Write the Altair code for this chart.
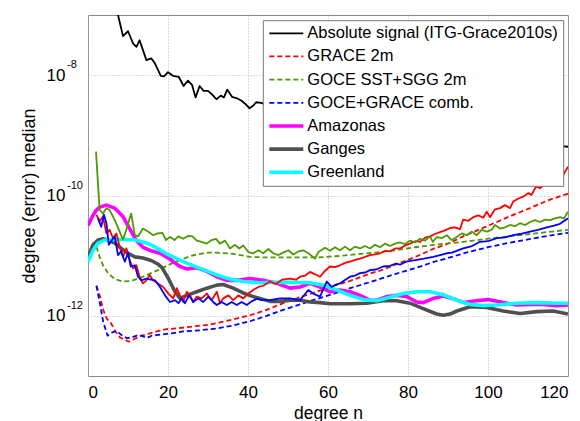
import altair as alt
import numpy as np
import pandas as pd

# ---- values: spherical-harmonic degree n and log10(degree median) ----
abs_n = [7, 7.5, 8.75, 10, 11.25, 12.1, 12.9, 14.6, 15.8, 16.7, 18.2, 19, 20, 21.25, 22.7, 23.9, 25, 26,
         26.9, 27.9, 28.9, 30, 31, 32.1, 33.2, 34, 34.8, 36, 37.1, 38.3, 39.2, 40.4, 41.25, 42.1, 43.3,
         45, 48, 52, 56, 60, 65, 70, 75, 80, 85, 90, 95, 100, 105, 110, 115, 118.5, 120]
abs_log = [-6.90, -7.00, -7.35, -7.27, -7.47, -7.53, -7.42, -7.75, -7.72, -7.80, -8.01, -8.02, -7.95, -8.01,
           -8.03, -8.18, -8.09, -8.16, -8.37, -8.18, -8.26, -8.26, -8.32, -8.40, -8.34, -8.37, -8.24, -8.36,
           -8.38, -8.42, -8.47, -8.55, -8.51, -8.45, -8.46,
           -8.50, -8.55, -8.60, -8.66, -8.70, -8.76, -8.81, -8.86, -8.91, -8.95, -8.99, -9.03, -9.07, -9.10,
           -9.13, -9.16, -9.18, -9.19]

grace_2m_n = [2.1, 3, 3.8, 4.7, 5.75, 6.75, 8, 9.25, 10.3, 11.75, 13.4, 15.1, 17.2, 19.7, 22, 24.5, 27, 30,
              33, 36.3, 40.5, 44.7, 48.8, 53, 57.2, 61.5, 65.5, 70, 73.8, 78, 82.2, 86.6, 90, 93.8, 98,
              102.2, 106, 110.5, 115, 120]
grace_2m_log = [-11.50, -11.68, -11.90, -12.05, -12.12, -12.25, -12.36, -12.40, -12.43, -12.38, -12.33,
                -12.30, -12.26, -12.22, -12.21, -12.19, -12.17, -12.15, -12.11, -12.06, -11.99, -11.90,
                -11.79, -11.69, -11.60, -11.50, -11.42, -11.31, -11.23, -11.12, -11.01, -10.88, -10.80,
                -10.68, -10.56, -10.44, -10.33, -10.21, -10.08, -9.97]

goce_2m_n = [2.1, 2.9, 3.75, 5, 6.7, 8.75, 10.8, 13.3, 15.8, 17.5, 19.7, 21.5, 23.8, 26, 28, 30, 32.2,
             36.3, 40.5, 44.7, 48.8, 53, 57.2, 61.75, 66.75, 71.75, 76.75, 81.75, 86.6, 93.8, 102.2,
             110.5, 120]
goce_2m_log = [-10.85, -11.02, -11.16, -11.29, -11.39, -11.43, -11.42, -11.36, -11.29, -11.24, -11.17,
               -11.11, -11.05, -11.00, -10.97, -10.95, -10.95, -10.97, -11.02, -11.03, -11.03, -11.03,
               -11.03, -11.01, -10.98, -10.95, -10.91, -10.86, -10.82, -10.77, -10.70, -10.64, -10.57]

comb_n = [2.1, 3, 3.8, 4.9, 5.9, 7.2, 8.4, 9.7, 10.9, 12.2, 13.4, 14.7, 15.9, 18.4, 20.9, 23.8, 28, 32.2,
          36.3, 40.5, 44.7, 48.8, 53, 57.2, 61.5, 65.5, 70, 73.8, 78, 82.2, 86.6, 90.5, 95, 100, 105, 110,
          115, 120]
comb_log = [-11.50, -11.80, -12.10, -12.33, -12.28, -12.25, -12.32, -12.37, -12.36, -12.33, -12.33,
            -12.37, -12.33, -12.31, -12.29, -12.26, -12.24, -12.21, -12.16, -12.09, -12.00, -11.90,
            -11.81, -11.72, -11.63, -11.54, -11.45, -11.37, -11.28, -11.20, -11.10, -11.03, -10.94,
            -10.86, -10.79, -10.73, -10.67, -10.62]

grace_real_n = [2.1, 2.9, 3.75, 4.6, 5.4, 6.25, 7.1, 7.9, 8.75, 9.6, 10.4, 11.25, 12.1, 12.9, 13.75, 14.6,
                15.4, 16.25, 17.2, 18.8, 20.1, 21.3, 22.2, 23, 23.8, 24.7, 25.5, 26.3, 27.2, 28.4, 29.7,
                30.9, 32.2, 33, 33.8, 35.1, 36.3, 37.6, 38.8, 40.1, 41.3, 42.6, 43.8, 45.5, 47, 48.5,
                50.5, 52, 53, 54.3, 55.5, 56.8, 58, 59.3, 60.5, 61.8, 63, 64.3, 65.5, 66.8, 68, 69.3,
                70.5, 71.8, 73, 74.3, 75.5, 76.8, 78, 79.3, 80.5, 81.8, 83, 84.3, 85.5, 86.75, 88, 89.25,
                90.5, 91.75, 93, 93.8, 95.1, 96.3, 97.6, 98.8, 99.7, 100.5, 101.75, 103, 104.25, 105.5,
                106.3, 107.6, 108.8, 110.1, 110.9, 112, 113, 114.25, 115.1, 116, 117.5, 118.8, 120]
grace_real_log = [-10.32, -10.43, -10.35, -10.63, -10.57, -10.71, -10.63, -10.85, -11.02, -10.88, -11.07,
                  -11.21, -11.16, -11.35, -11.46, -11.41, -11.32, -11.41, -11.45, -11.52, -11.63, -11.71,
                  -11.54, -11.66, -11.77, -11.60, -11.66, -11.77, -11.68, -11.71, -11.63, -11.74, -11.60,
                  -11.79, -11.71, -11.66, -11.74, -11.66, -11.71, -11.63, -11.57, -11.52, -11.50, -11.43,
                  -11.47, -11.40, -11.38, -11.40, -11.35, -11.33, -11.27, -11.31, -11.35, -11.25, -11.18,
                  -11.19, -11.16, -11.12, -11.10, -11.07, -11.05, -11.02, -10.99, -10.98, -10.96, -10.92,
                  -10.93, -10.88, -10.88, -10.83, -10.80, -10.76, -10.77, -10.70, -10.68, -10.64, -10.61,
                  -10.58, -10.54, -10.53, -10.56, -10.40, -10.42, -10.36, -10.33, -10.37, -10.27, -10.36,
                  -10.23, -10.21, -10.16, -10.21, -10.10, -10.05, -10.02, -9.96, -9.99, -9.85, -9.88,
                  -9.80, -9.83, -9.76, -9.70, -9.66, -9.52]

goce_real_n = [2, 2.9, 3.75, 4.6, 5.4, 6.7, 7.9, 8.75, 9.6, 10.4, 10.8, 11.7, 12.5, 13.75, 15, 16.3, 17.4,
               18.6, 19.5, 20.5, 21.6, 22.6, 23.8, 25.1, 26.1, 27.2, 28.8, 29.7, 30.9, 32, 33, 34.25, 35.5,
               36.75, 37.8, 38.8, 40.1, 41.3, 42.6, 43.8, 45.1, 46.3, 47.6, 48.8, 50.1, 51.3, 52.6, 53.8,
               55.1, 56.75, 57.6, 59.25, 60.5, 61.75, 63, 64.25, 65.5, 66.75, 68, 69.25, 70.5, 71.75, 73,
               74.25, 75.5, 76.75, 78, 79.25, 80.5, 81.75, 83, 84.25, 85.5, 86.2, 87.2, 88.4, 89.7, 90.9,
               92.2, 93.4, 94.7, 95.9, 97.2, 98.4, 99.7, 100.9, 101.75, 103, 104.25, 105.5, 106.75, 108,
               109.25, 110.5, 111.75, 113, 114.25, 115.5, 116.75, 118, 119, 120]
goce_real_log = [-9.27, -10.24, -10.30, -10.21, -10.24, -10.41, -10.60, -10.73, -10.57, -10.38, -10.30,
                 -10.66, -10.68, -10.55, -10.60, -10.66, -10.63, -10.62, -10.74, -10.69, -10.74, -10.68,
                 -10.72, -10.67, -10.68, -10.75, -10.78, -10.80, -10.74, -10.72, -10.80, -10.75, -10.88,
                 -10.82, -10.88, -10.83, -10.94, -10.96, -10.91, -10.96, -10.89, -10.96, -10.99, -10.95,
                 -10.91, -10.98, -10.93, -10.91, -10.96, -11.05, -10.94, -10.87, -10.92, -10.86, -10.91,
                 -10.85, -10.91, -10.85, -10.88, -10.84, -10.88, -10.82, -10.86, -10.80, -10.84, -10.80,
                 -10.78, -10.81, -10.75, -10.78, -10.72, -10.75, -10.68, -10.77, -10.69, -10.71, -10.66,
                 -10.74, -10.69, -10.63, -10.66, -10.60, -10.66, -10.57, -10.60, -10.57, -10.49, -10.55,
                 -10.53, -10.49, -10.51, -10.46, -10.49, -10.44, -10.41, -10.44, -10.40, -10.41, -10.38,
                 -10.36, -10.38, -10.27]

comb_real_n = [2.5, 3.3, 4, 4.6, 5.2, 6, 6.7, 7.5, 8.3, 9.2, 10, 10.7, 11.7, 12.5, 13.3, 14.6, 15.8, 16.75,
               18, 19.25, 20.5, 21.75, 22.6, 23.4, 24.25, 25.3, 26.3, 27.6, 28.8, 30.1, 31.3, 32.2, 33.4,
               34.7, 35.9, 37.2, 38.4, 39.7, 40.9, 42.2, 43.5, 45.5, 48, 50.5, 53, 55.1, 56.3, 58, 59.7,
               60.9, 62, 63, 65.5, 66.8, 68, 69.3, 70.5, 72, 73.8, 75.5, 77, 78, 79.5, 82.2, 84, 86.3, 88,
               89.7, 91, 93.8, 96, 98, 100, 102.2, 104, 106.3, 108, 110.5, 112.5, 114.7, 116.5, 118, 120]
comb_real_log = [-10.38, -10.52, -10.32, -10.46, -10.82, -10.74, -10.68, -10.99, -10.93, -11.10, -10.96,
                 -11.18, -11.16, -11.35, -11.41, -11.38, -11.40, -11.41, -11.52, -11.66, -11.77, -11.74,
                 -11.79, -11.71, -11.79, -11.66, -11.77, -11.71, -11.77, -11.68, -11.77, -11.82, -11.77,
                 -11.82, -11.77, -11.82, -11.77, -11.82, -11.76, -11.72, -11.74, -11.74, -11.71, -11.71,
                 -11.74, -11.57, -11.63, -11.68, -11.43, -11.52, -11.48, -11.46, -11.35, -11.33, -11.29,
                 -11.28, -11.24, -11.23, -11.18, -11.17, -11.13, -11.15, -11.10, -11.07, -11.05, -11.02,
                 -10.99, -10.96, -10.95, -10.88, -10.84, -10.77, -10.76, -10.71, -10.70, -10.66, -10.64,
                 -10.60, -10.57, -10.53, -10.50, -10.47, -10.38]

amazonas_n = [0, 1, 2, 3, 4.6, 6.7, 8.75, 10.4, 12.1, 13.75, 15.8, 18, 20.5, 23, 24.7, 27.2, 29.7, 32.2,
              34.7, 37.2, 40.5, 43.8, 47.2, 50.5, 53, 55.5, 58, 60.5, 63, 65.5, 68, 70.5, 72.2, 74.7, 77.2,
              79.7, 82.2, 83.8, 86.3, 88.8, 91.5, 94, 97, 100, 103.8, 107.2, 110.5, 113.8, 117.2, 120]
amazonas_log = [-10.50, -10.36, -10.25, -10.19, -10.16, -10.21, -10.35, -10.55, -10.75, -10.86, -10.92,
                -10.96, -11.06, -11.18, -11.22, -11.20, -11.26, -11.35, -11.41, -11.41, -11.38, -11.41,
                -11.46, -11.54, -11.52, -11.46, -11.52, -11.60, -11.57, -11.60, -11.66, -11.74, -11.74,
                -11.68, -11.66, -11.68, -11.77, -11.78, -11.71, -11.67, -11.72, -11.78, -11.75, -11.73,
                -11.78, -11.82, -11.81, -11.81, -11.83, -11.82]

ganges_n = [0, 1.25, 2.5, 3.75, 5, 6.7, 8.3, 10, 11.7, 13.75, 15.8, 17.5, 18.5, 20.1, 21.75, 23, 24.7,
            27.2, 29.7, 32.2, 33.8, 36.3, 38.8, 41.3, 43, 45.5, 48, 50.5, 53, 55.5, 58, 60.5, 65.5, 69.7,
            73.8, 77.2, 80.5, 83.8, 87.2, 88.8, 90.5, 92.2, 95.5, 99.7, 103.8, 108, 112.2, 116.3, 120]
ganges_log = [-11.02, -10.82, -10.74, -10.72, -10.74, -10.79, -10.88, -10.96, -11.02, -11.04, -11.08,
              -11.14, -11.20, -11.38, -11.60, -11.71, -11.66, -11.60, -11.54, -11.49, -11.48, -11.54,
              -11.62, -11.68, -11.71, -11.76, -11.76, -11.74, -11.74, -11.77, -11.78, -11.80, -11.80,
              -11.79, -11.75, -11.75, -11.79, -11.88, -11.97, -11.99, -11.97, -11.92, -11.85, -11.86,
              -11.92, -11.96, -11.93, -11.92, -11.97]

greenland_n = [0, 1.25, 2.5, 4.2, 6.7, 9.2, 11.7, 14.2, 16, 19.7, 23.8, 28, 32.2, 35.5, 38.8, 43, 48.8,
               55.5, 58.8, 62.2, 65.5, 68.8, 72.2, 75.5, 78.8, 82.2, 85.5, 88.8, 92.2, 95.5, 98.8, 102.2,
               107.2, 112.2, 117.2, 120]
greenland_log = [-11.10, -10.91, -10.79, -10.74, -10.73, -10.73, -10.74, -10.78, -10.83, -10.97, -11.10,
                 -11.21, -11.32, -11.39, -11.43, -11.45, -11.44, -11.45, -11.49, -11.57, -11.66, -11.73,
                 -11.75, -11.69, -11.63, -11.60, -11.60, -11.65, -11.74, -11.81, -11.83, -11.82, -11.79,
                 -11.78, -11.79, -11.79]

legend_labels = ["Absolute signal (ITG-Grace2010s)", "GRACE 2m", "GOCE SST+SGG 2m",
                 "GOCE+GRACE comb.", "Amazonas", "Ganges", "Greenland"]
y_tick_values = [1e-12, 1e-10, 1e-8]
y_tick_exponents = ["-12", "-10", "-8"]
x_tick_values = [0, 20, 40, 60, 80, 100, 120]

# ---- styles ----
RED, GREEN, BLUE = "#ff0000", "#4c9900", "#0000ff"
MAG, GRAY, CYAN = "#ff00ff", "#505050", "#00ffff"
DASH = [5, 3]
FONT = "Liberation Sans"
W, H = 480, 361
THIN, THICK = 1.8, 3.6


def table(n, lg):
    return pd.DataFrame({"n": n, "v": 10.0 ** np.array(lg)})


x_enc = alt.X("n:Q", scale=alt.Scale(domain=[0, 120], nice=False, zero=False),
              axis=alt.Axis(values=x_tick_values, title="degree n", titleY=28,
                            titleBaseline="top", labelPadding=8))
y_enc = alt.Y("v:Q", scale=alt.Scale(type="log", domain=[1e-13, 1e-7], nice=False),
              axis=alt.Axis(values=y_tick_values, labelExpr="'10'", title="degree (error) median",
                            labelPadding=23, titleX=-59, titleY=H / 2, titleBaseline="middle",
                            titleAlign="center", titleAngle=270, titleFontSize=18))


def line(n, lg, color, width, dash=None):
    kw = dict(color=color, strokeWidth=width, clip=True, strokeJoin="round")
    if dash:
        kw["strokeDash"] = dash
    return alt.Chart(table(n, lg)).mark_line(**kw).encode(x=x_enc, y=y_enc, order="n:Q")


layers = [
    line(abs_n, abs_log, "#000000", THIN),
    line(grace_2m_n, grace_2m_log, RED, THIN, DASH),
    line(goce_2m_n, goce_2m_log, GREEN, THIN, DASH),
    line(comb_n, comb_log, BLUE, THIN, DASH),
    line(amazonas_n, amazonas_log, MAG, THICK),
    line(ganges_n, ganges_log, GRAY, THICK),
    line(greenland_n, greenland_log, CYAN, THICK),
    line(grace_real_n, grace_real_log, RED, THIN),
    line(goce_real_n, goce_real_log, GREEN, THIN),
    line(comb_real_n, comb_real_log, BLUE, THIN),
]

# exponent superscripts of the y tick labels
exp_df = pd.DataFrame({"v": y_tick_values, "t": y_tick_exponents})
layers.append(
    alt.Chart(exp_df).mark_text(align="left", baseline="middle", dy=-10, fontSize=11, font=FONT,
                                color="black")
    .encode(x=alt.value(-21), y=y_enc, text="t:N")
)

# legend box
layers.append(
    alt.Chart(pd.DataFrame({"k": [0]})).mark_rect(fill="white", stroke="#777777", strokeWidth=1)
    .encode(x=alt.value(175.3), x2=alt.value(475.7), y=alt.value(5.7), y2=alt.value(171.3))
)
leg_colors = ["#000000", RED, GREEN, BLUE, MAG, GRAY, CYAN]
leg_dash = [None, DASH, DASH, DASH, None, None, None]
leg_width = [THIN, THIN, THIN, THIN, THICK, THICK, THICK]
for i, lab in enumerate(legend_labels):
    yy = 18.3 + 23.17 * i
    kw = dict(color=leg_colors[i], strokeWidth=leg_width[i])
    if leg_dash[i]:
        kw["strokeDash"] = leg_dash[i]
    d = pd.DataFrame({"label": [lab]})
    layers.append(alt.Chart(d).mark_rule(**kw).encode(
        x=alt.value(181.3), x2=alt.value(215.3), y=alt.value(yy)))
    layers.append(alt.Chart(d).mark_text(align="left", baseline="middle", fontSize=16.5, font=FONT,
                                         color="black")
                  .encode(x=alt.value(219.3), y=alt.value(yy), text="label:N"))

chart = (
    alt.layer(*layers)
    .properties(width=W, height=H, autosize=alt.AutoSizeParams(type="none"),
                padding={"left": 80, "top": 7, "right": 4, "bottom": 50})
    .configure(font=FONT)
    .configure_view(stroke="#888888", strokeWidth=1)
    .configure_axis(grid=True, gridColor="#b5b5b5", gridDash=[1, 2], gridWidth=1, ticks=False,
                    domain=False, labelFont=FONT, labelFontSize=17, labelColor="black",
                    titleFont=FONT, titleFontSize=17.5, titleFontWeight="normal", titleColor="black")
)

chart.save("out.html", embed_options={"renderer": "svg", "actions": False})
